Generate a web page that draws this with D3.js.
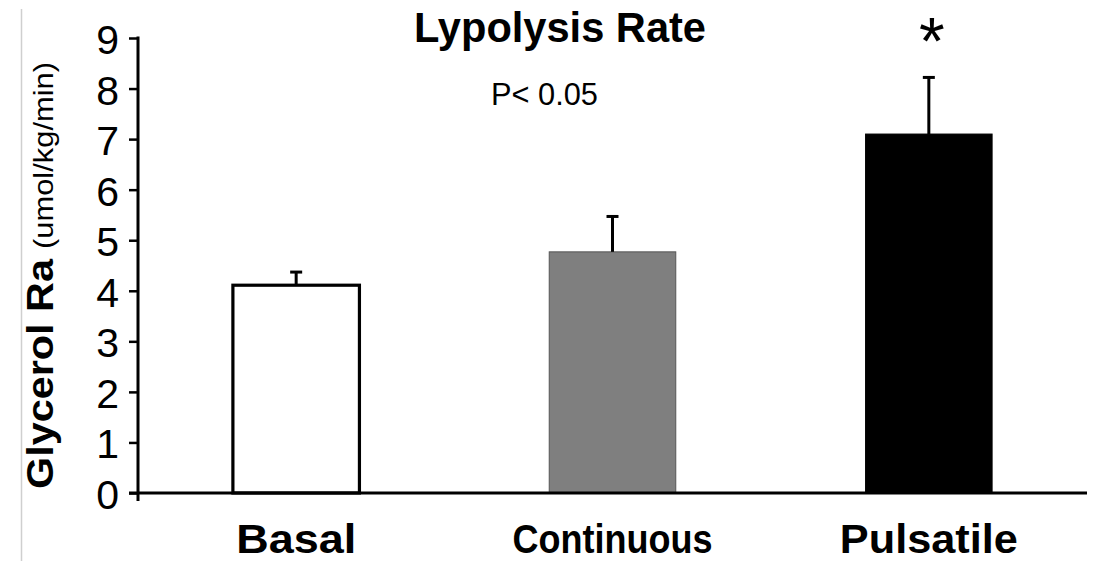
<!DOCTYPE html>
<html>
<head>
<meta charset="utf-8">
<script src="https://cdn.jsdelivr.net/npm/d3@7"></script>
<style>
  html, body { margin: 0; padding: 0; background: #fff; }
  svg { display: block; }
  text { font-family: "Liberation Sans", Arial, Helvetica, sans-serif; fill: #000; }
</style>
</head>
<body>
<svg id="chart" width="1097" height="561"></svg>
<script>
// Glycerol rate of appearance by infusion mode
const categories = ["Basal", "Continuous", "Pulsatile"];
const means = [4.11, 4.77, 7.10];
const errors = [0.26, 0.70, 1.12];
const fills = ["#ffffff", "#7f7f7f", "#000000"];
const yTicks = [0, 1, 2, 3, 4, 5, 6, 7, 8, 9];
const significant = [false, false, true];

const svg = d3.select("#chart");

const x = d3.scaleBand()
  .domain(categories)
  .range([138, 1087])
  .paddingInner(0.6)
  .paddingOuter(0.3);

const y = d3.scaleLinear()
  .domain([0, 9])
  .range([493, 38]);

// thin page rule on the left edge
svg.append("line")
  .attr("x1", 21.5).attr("x2", 21.5)
  .attr("y1", 9).attr("y2", 561)
  .attr("stroke", "#cfcfcf").attr("stroke-width", 1.5);

// bars
svg.append("g").selectAll("rect")
  .data(categories)
  .join("rect")
  .attr("x", d => x(d))
  .attr("width", x.bandwidth())
  .attr("y", (d, i) => y(means[i]))
  .attr("height", (d, i) => y(0) - y(means[i]))
  .attr("fill", (d, i) => fills[i])
  .attr("stroke", (d, i) => i === 1 ? "#555" : "#000")
  .attr("stroke-width", (d, i) => i === 0 ? 3.2 : 1);

// error bars (upper only)
const eb = svg.append("g").attr("stroke", "#000");
categories.forEach((c, i) => {
  const cx = x(c) + x.bandwidth() / 2;
  eb.append("line")
    .attr("x1", cx).attr("x2", cx)
    .attr("y1", y(means[i])).attr("y2", y(means[i] + errors[i]))
    .attr("stroke-width", 3);
  eb.append("line")
    .attr("x1", cx - 6).attr("x2", cx + 6)
    .attr("y1", y(means[i] + errors[i])).attr("y2", y(means[i] + errors[i]))
    .attr("stroke-width", 3);
});

// y axis with ticks
const yAxis = d3.axisLeft(y)
  .tickValues(yTicks)
  .tickSize(9)
  .tickSizeOuter(0)
  .tickFormat("");
const gy = svg.append("g")
  .attr("transform", "translate(138,0)")
  .call(yAxis);
gy.select(".domain").remove();
gy.selectAll(".tick line").attr("stroke", "#000").attr("stroke-width", 2.5);
svg.append("line")
  .attr("x1", 138).attr("x2", 138)
  .attr("y1", y(9) - 1.5).attr("y2", y(0) + 8)
  .attr("stroke", "#000").attr("stroke-width", 3);

// tick labels
svg.append("g").selectAll("text")
  .data(yTicks)
  .join("text")
  .attr("x", 119)
  .attr("y", d => y(d) + 16)
  .attr("text-anchor", "end")
  .attr("font-size", 41)
  .text(d => d);

// x axis baseline
svg.append("line")
  .attr("x1", 129).attr("x2", 1087)
  .attr("y1", y(0)).attr("y2", y(0))
  .attr("stroke", "#000").attr("stroke-width", 3);

// category labels
const xLabelWidths = [120, 200, 178];
svg.append("g").selectAll("text")
  .data(categories)
  .join("text")
  .attr("x", d => x(d) + x.bandwidth() / 2)
  .attr("y", 553)
  .attr("text-anchor", "middle")
  .attr("font-size", 40)
  .attr("font-weight", "bold")
  .attr("textLength", (d, i) => xLabelWidths[i])
  .attr("lengthAdjust", "spacingAndGlyphs")
  .text(d => d);

// significance marker
svg.append("g").selectAll("text")
  .data(categories.filter((c, i) => significant[i]))
  .join("text")
  .attr("x", d => x(d) + x.bandwidth() / 2 + 3)
  .attr("y", 64)
  .attr("text-anchor", "middle")
  .attr("font-family", "Liberation Serif, Times New Roman, serif")
  .attr("font-size", 66)
  .text("*");

// title and p-value note
svg.append("text")
  .attr("x", 414).attr("y", 42)
  .attr("font-size", 42).attr("font-weight", "bold")
  .attr("textLength", 292).attr("lengthAdjust", "spacingAndGlyphs")
  .text("Lypolysis Rate");

svg.append("text")
  .attr("x", 491).attr("y", 105)
  .attr("font-size", 31)
  .attr("textLength", 107).attr("lengthAdjust", "spacingAndGlyphs")
  .text("P< 0.05");

// y-axis title
svg.append("text")
  .attr("transform", "translate(53,489) rotate(-90)")
  .attr("font-size", 37).attr("font-weight", "bold")
  .attr("textLength", 230).attr("lengthAdjust", "spacingAndGlyphs")
  .text("Glycerol Ra");
svg.append("text")
  .attr("transform", "translate(53,249) rotate(-90)")
  .attr("font-size", 27)
  .attr("textLength", 187).attr("lengthAdjust", "spacingAndGlyphs")
  .text("(umol/kg/min)");
</script>
</body>
</html>
